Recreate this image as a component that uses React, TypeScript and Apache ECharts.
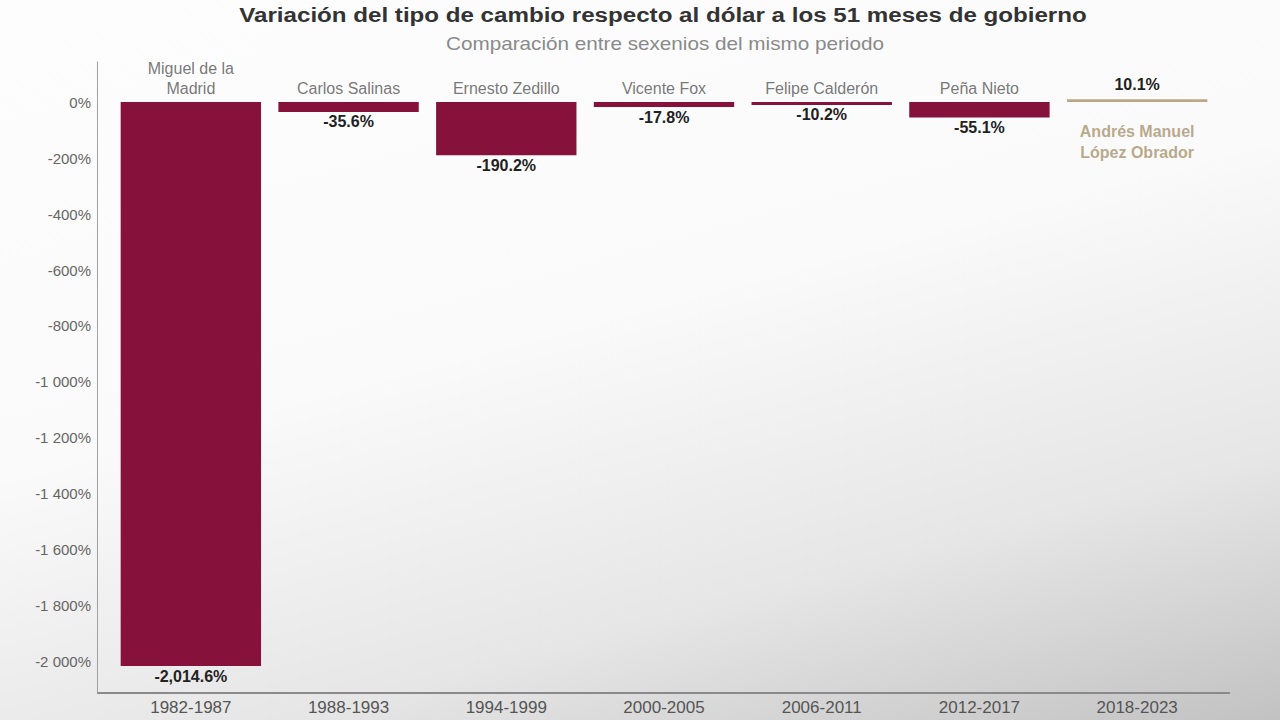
import React, { useEffect, useRef } from "react";
import * as echarts from "echarts";

const periods = ["1982-1987", "1988-1993", "1994-1999", "2000-2005", "2006-2011", "2012-2017", "2018-2023"];
const presidents = [
  "Miguel de la\nMadrid",
  "Carlos Salinas",
  "Ernesto Zedillo",
  "Vicente Fox",
  "Felipe Calderón",
  "Peña Nieto",
  "Andrés Manuel\nLópez Obrador",
];
const variation = [-2014.6, -35.6, -190.2, -17.8, -10.2, -55.1, 10.1];
const yTicks = [0, -200, -400, -600, -800, -1000, -1200, -1400, -1600, -1800, -2000];

const TITLE = "Variación del tipo de cambio respecto al dólar a los 51 meses de gobierno";
const SUBTITLE = "Comparación entre sexenios del mismo periodo";

const MAROON = "#86123c";
const GOLD = "#bba888";
const GOLD_TEXT = "#a8936d";
const FONT = "'Liberation Sans', Arial, sans-serif";

const fmtAxis = (v: number) => {
  const s = Math.abs(v).toString().replace(/\B(?=(\d{3})+(?!\d))/g, " ");
  return (v < 0 ? "-" : "") + s + "%";
};
const fmtValue = (v: number) =>
  v.toLocaleString("en-US", { minimumFractionDigits: 1, maximumFractionDigits: 1 }) + "%";

export default function App() {
  const ref = useRef<HTMLDivElement>(null);
  useEffect(() => {
    if (!ref.current) return;
    const chart = echarts.init(ref.current, undefined, { renderer: "svg" });
    const last = variation.length - 1;
    chart.setOption({
      animation: false,
      backgroundColor: "transparent",
      textStyle: { fontFamily: FONT },
      grid: { left: 112, right: 64, top: 62, bottom: 27, containLabel: false },
      xAxis: {
        type: "category",
        data: periods,
        axisLine: { show: false },
        axisTick: { show: false },
        axisLabel: { color: "#555", fontSize: 17, margin: 6, fontFamily: FONT },
      },
      yAxis: {
        type: "value",
        min: -2111,
        max: 143,
        offset: 15,
        splitLine: { show: false },
        axisTick: { show: false },
        axisLine: { show: true, lineStyle: { color: "#a0a0a0", width: 1 } },
        axisLabel: {
          customValues: yTicks,
          formatter: (v: number) => fmtAxis(v),
          color: "#666",
          fontSize: 15,
          margin: 6,
          fontFamily: FONT,
        },
      },
      series: [
        {
          type: "bar",
          barWidth: "89%",
          data: variation.map((v, i) => ({
            value: v,
            itemStyle: { color: i === last ? GOLD : MAROON },
            label: { position: v < 0 ? "bottom" : "top", distance: v < 0 ? 2 : 7 },
          })),
          label: {
            show: true,
            formatter: (p: any) => fmtValue(p.value),
            fontSize: 16,
            fontWeight: "bold",
            color: "#222",
            fontFamily: FONT,
          },
          silent: true,
        },
        {
          type: "scatter",
          symbolSize: 0,
          silent: true,
          data: presidents.map((name, i) => ({
            value: 0,
            label:
              i === last
                ? {
                    position: "bottom",
                    distance: 19,
                    color: GOLD_TEXT,
                    fontWeight: "bold",
                    fontSize: 16,
                    lineHeight: 21,
                  }
                : { position: "top", distance: 4 },
          })),
          label: {
            show: true,
            formatter: (p: any) => presidents[p.dataIndex],
            color: "#555",
            fontSize: 16,
            lineHeight: 20,
            fontFamily: FONT,
          },
          z: 5,
        },
      ],
      graphic: [
        {
          type: "text",
          x: 663,
          y: 15,
          scaleX: 1.15,
          silent: true,
          style: {
            text: TITLE,
            fontFamily: FONT,
            fontSize: 21,
            fontWeight: "bold",
            fill: "#333",
            textAlign: "center",
            textVerticalAlign: "middle",
          },
        },
        {
          type: "text",
          x: 665,
          y: 44,
          scaleX: 1.15,
          silent: true,
          style: {
            text: SUBTITLE,
            fontFamily: FONT,
            fontSize: 18,
            fill: "#8a8a8a",
            textAlign: "center",
            textVerticalAlign: "middle",
          },
        },
        {
          type: "line",
          shape: { x1: 97, y1: 693, x2: 1230, y2: 693 },
          style: { stroke: "#8a8a8a", lineWidth: 2 },
          silent: true,
        },
      ],
    });
    return () => chart.dispose();
  }, []);
  return (
    <div
      style={{
        position: "fixed",
        left: 0,
        top: 0,
        width: 1280,
        height: 720,
        background:
          "linear-gradient(165deg, #fdfdfd 0%, #fafafa 45%, #e6e6e6 75%, #c2c2c2 100%)",
      }}
    >
      <div ref={ref} style={{ width: 1280, height: 720 }} />
    </div>
  );
}
